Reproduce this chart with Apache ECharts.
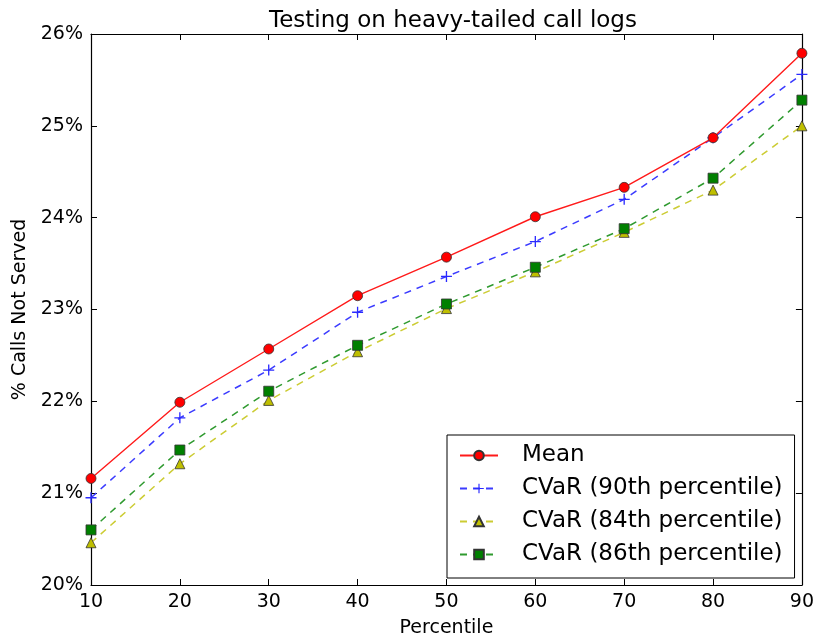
<!DOCTYPE html>
<html><head><meta charset="utf-8">
<script src="https://cdn.jsdelivr.net/npm/echarts@6/dist/echarts.min.js"></script>
<style>html,body{margin:0;padding:0;background:#fff}#c{width:817px;height:643px}</style>
</head><body><div id="c"></div>
<script>
const percentiles = [10, 20, 30, 40, 50, 60, 70, 80, 90];
const meanVals   = [21.16, 21.99, 22.57, 23.15, 23.57, 24.01, 24.33, 24.87, 25.79];
const cvar90Vals = [20.95, 21.82, 22.34, 22.97, 23.36, 23.74, 24.20, 24.87, 25.56];
const cvar84Vals = [20.46, 21.32, 22.01, 22.54, 23.01, 23.41, 23.84, 24.30, 25.00];
const cvar86Vals = [20.60, 21.47, 22.11, 22.61, 23.06, 23.46, 23.88, 24.43, 25.28];
const seriesNames = ['Mean', 'CVaR (90th percentile)', 'CVaR (84th percentile)', 'CVaR (86th percentile)'];

const FONT = 'DejaVu Sans';
const pairs = v => percentiles.map((x, i) => [x, v[i]]);
const plus = 'path://M4.4,0H5.6V4.4H10V5.6H5.6V10H4.4V5.6H0V4.4H4.4Z';

const axisCommon = {
  type: 'value', min: 10, max: 90, interval: 10,
  axisLine: { show: true, lineStyle: { color: '#000', width: 1.2 } },
  axisTick: { show: true, inside: true, length: 6, lineStyle: { color: '#000' } },
  splitLine: { show: false }
};
const yCommon = {
  type: 'value', min: 20, max: 26, interval: 1,
  axisLine: { show: true, lineStyle: { color: '#000', width: 1.2 } },
  axisTick: { show: true, inside: true, length: 6, lineStyle: { color: '#000' } },
  splitLine: { show: false }
};

const chart = echarts.init(document.getElementById('c'), null, { renderer: 'canvas' });
chart.setOption({
  animation: false,
  backgroundColor: '#fff',
  title: {
    text: 'Testing on heavy-tailed call logs', left: 448, top: 5, textAlign: 'center',
    textStyle: { fontFamily: FONT, fontSize: 23, fontWeight: 'normal', color: '#000' }
  },
  grid: { left: 91, right: 11, top: 34, bottom: 55 },
  xAxis: [
    Object.assign({}, axisCommon, {
      position: 'bottom', name: 'Percentile', nameLocation: 'middle', nameGap: 34,
      nameTextStyle: { fontFamily: FONT, fontSize: 19, color: '#000' },
      axisLabel: { fontFamily: FONT, fontSize: 19, color: '#000', margin: 8 }
    }),
    Object.assign({}, axisCommon, { position: 'top', axisLabel: { show: false } })
  ],
  yAxis: [
    Object.assign({}, yCommon, {
      position: 'left', name: '% Calls Not Served', nameLocation: 'middle', nameGap: 60,
      nameTextStyle: { fontFamily: FONT, fontSize: 19, color: '#000' },
      axisLabel: { fontFamily: FONT, fontSize: 19, color: '#000', margin: 8, formatter: '{value}%' }
    }),
    Object.assign({}, yCommon, { position: 'right', axisLabel: { show: false } })
  ],
  legend: {
    orient: 'vertical', left: 447, top: 435,
    padding: [9, 12, 12, 12], itemGap: 10, itemWidth: 38, itemHeight: 12,
    backgroundColor: '#fff', borderColor: '#000', borderWidth: 1, borderRadius: 0,
    textStyle: { fontFamily: FONT, fontSize: 23, lineHeight: 23, color: '#000', padding: [0, 0, 0, 19] },
    data: seriesNames
  },
  series: [
    { name: seriesNames[0], type: 'line', data: pairs(meanVals), symbol: 'circle', symbolSize: 10,
      lineStyle: { color: '#ff1a1a', width: 1.4 },
      itemStyle: { color: '#ff0000', borderColor: '#333', borderWidth: 0.8 }, z: 5 },
    { name: seriesNames[1], type: 'line', data: pairs(cvar90Vals), symbol: plus, symbolSize: 11,
      lineStyle: { color: '#3b3bff', width: 1.5, type: [7, 6] },
      itemStyle: { color: '#2a2aff', borderWidth: 0 }, z: 4 },
    { name: seriesNames[2], type: 'line', data: pairs(cvar84Vals), symbol: 'triangle', symbolSize: 10,
      lineStyle: { color: '#cccc33', width: 1.5, type: [7, 6] },
      itemStyle: { color: '#bfbf00', borderColor: '#333', borderWidth: 0.8 }, z: 3 },
    { name: seriesNames[3], type: 'line', data: pairs(cvar86Vals), symbol: 'rect', symbolSize: 10,
      lineStyle: { color: '#2f9a2f', width: 1.5, type: [7, 6] },
      itemStyle: { color: '#008000', borderColor: '#333', borderWidth: 0.8 }, z: 3 }
  ]
});
</script></body></html>
